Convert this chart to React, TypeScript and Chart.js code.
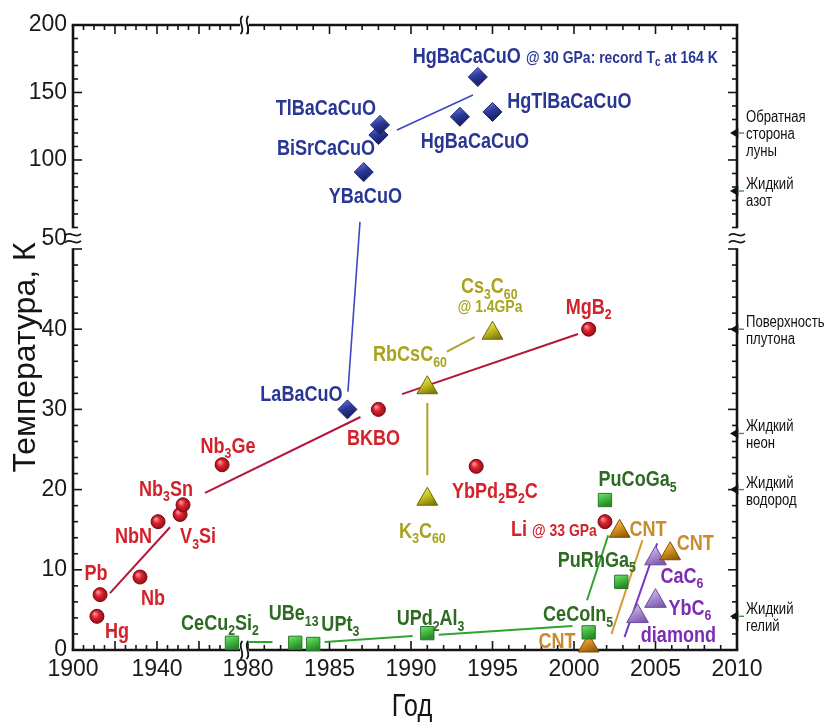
import React, { useEffect, useRef } from 'react';
import { Chart, registerables } from 'chart.js';

Chart.register(...registerables);

const SANS = '"Liberation Sans", Arial, sans-serif';
const SQUEEZE = 0.82; // horizontal condensing of annotation text (narrow face look)

// ---------------- DATA (year, Tc in K) ----------------
// Conventional superconductors (red circles)
const conventionalNames = ['Hg', 'Pb', 'Nb', 'NbN', 'V3Si', 'Nb3Sn', 'Nb3Ge', 'BKBO', 'YbPd2B2C', 'MgB2', 'Li'];
const conventionalYears = [1911.4, 1912.9, 1931.9, 1940.5, 1951.0, 1952.4, 1971.0, 1988.0, 1994.0, 2000.9, 2001.9];
const conventionalTc = [4.2, 6.9, 9.1, 16.0, 16.9, 18.1, 23.1, 30.0, 22.9, 40.0, 16.0];

// Cuprates (blue diamonds)
const cuprateNames = ['LaBaCuO', 'YBaCuO', 'BiSrCaCuO', 'TlBaCaCuO', 'HgBaCaCuO', 'HgTlBaCaCuO', 'HgBaCaCuO @ 30 GPa'];
const cuprateYears = [1986.1, 1987.1, 1988.0, 1988.1, 1993.0, 1995.0, 1994.1];
const cuprateTc = [30.0, 91.0, 118.5, 126.0, 132.0, 135.6, 161.5];

// Fullerides (olive triangles)
const fullerideNames = ['K3C60', 'RbCsC60', 'Cs3C60 @ 1.4GPa'];
const fullerideYears = [1991.0, 1991.0, 1995.0];
const fullerideTc = [18.8, 32.7, 39.5];

// Heavy fermions (green squares)
const heavyFermionNames = ['CeCu2Si2', 'UBe13', 'UPt3', 'UPd2Al3', 'CeCoIn5', 'PuRhGa5', 'PuCoGa5'];
const heavyFermionYears = [1975.7, 1982.9, 1984.0, 1991.0, 2000.9, 2002.9, 2001.9];
const heavyFermionTc = [0.9, 0.9, 0.75, 2.1, 2.2, 8.5, 18.7];

// Carbon nanotubes (orange triangles)
const cntYears = [2000.9, 2002.8, 2005.9];
const cntTc = [0.5, 14.8, 12.0];

// Graphite intercalation / diamond (purple triangles)
const carbonNames = ['CaC6', 'YbC6', 'diamond'];
const carbonYears = [2005.0, 2005.0, 2003.9];
const carbonTc = [11.4, 6.1, 4.2];

// Trend lines: [family, year1, Tc1, year2, Tc2]
const trendLines: [string, number, number, number, number][] = [
  ['red', 1917.6, 7.1, 1946.2, 15.3],
  ['red', 1962.9, 19.6, 1986.9, 29.05],
  ['red', 1989.45, 31.9, 2000.25, 39.4],
  ['blue', 1986.13, 32.2, 1986.87, 54.1],
  ['blue', 1989.14, 122.2, 1993.8, 148.1],
  ['olive', 1991.0, 30.8, 1991.0, 21.8],
  ['olive', 1992.2, 37.2, 1993.9, 39.0],
  ['green', 1980.0, 1.0, 1981.5, 1.0],
  ['green', 1984.7, 1.0, 1990.1, 1.75],
  ['green', 1991.7, 1.9, 1999.9, 3.0],
  ['green', 2000.8, 6.2, 2002.1, 14.3],
  ['orange', 2002.3, 2.0, 2004.2, 13.7],
  ['purple', 2003.1, 1.6, 2005.1, 13.3],
];

// Point labels: [text, year, Tc, align, family]  ("_" = subscript, "~" = small text from here)
const pointLabels: [string, number, number, string, string][] = [
  ['HgBaCaCuO ~@ 30 GPa: record T_c at 164 K', 1990.1, 177.8, 'left', 'blue'],
  ['HgTlBaCaCuO', 1995.9, 144.4, 'left', 'blue'],
  ['HgBaCaCuO', 1990.6, 114.8, 'left', 'blue'],
  ['TlBaCaCuO', 1987.85, 139.3, 'right', 'blue'],
  ['BiSrCaCuO', 1987.8, 109.6, 'right', 'blue'],
  ['YBaCuO', 1987.2, 74.1, 'center', 'blue'],
  ['LaBaCuO', 1985.8, 32.0, 'right', 'blue'],
  ['BKBO', 1987.7, 26.6, 'center', 'red'],
  ['Nb_3Ge', 1973.8, 25.6, 'center', 'red'],
  ['Nb_3Sn', 1944.3, 20.2, 'center', 'red'],
  ['NbN', 1937.6, 14.3, 'right', 'red'],
  ['V_3Si', 1951.0, 14.3, 'left', 'red'],
  ['Pb', 1911.0, 9.7, 'center', 'red'],
  ['Nb', 1938.1, 6.6, 'center', 'red'],
  ['Hg', 1915.2, 2.5, 'left', 'red'],
  ['YbPd_2B_2C', 1995.15, 19.95, 'center', 'red'],
  ['MgB_2', 2000.9, 42.9, 'center', 'red'],
  ['Li ~@ 33 GPa', 2001.4, 15.2, 'right', 'red'],
  ['K_3C_60', 1990.7, 15.0, 'center', 'olive'],
  ['RbCsC_60', 1992.2, 37.0, 'right', 'olive'],
  ['Cs_3C_60', 1994.8, 45.5, 'center', 'olive'],
  ['~@ 1.4GPa', 1994.85, 42.9, 'center', 'olive'],
  ['CeCu_2Si_2', 1970.0, 3.5, 'center', 'green'],
  ['UBe_13', 1982.8, 4.7, 'center', 'green'],
  ['UPt_3', 1984.5, 3.4, 'left', 'green'],
  ['UPd_2Al_3', 1991.2, 4.1, 'center', 'green'],
  ['CeCoIn_5', 2000.25, 4.6, 'center', 'green'],
  ['PuRhGa_5', 2001.4, 11.35, 'center', 'green'],
  ['PuCoGa_5', 2003.9, 21.4, 'center', 'green'],
  ['CNT', 2000.1, 1.25, 'right', 'orange'],
  ['CNT', 2003.4, 15.2, 'left', 'orange'],
  ['CNT', 2006.3, 13.5, 'left', 'orange'],
  ['CaC_6', 2005.3, 9.35, 'left', 'purple'],
  ['YbC_6', 2005.8, 5.4, 'left', 'purple'],
  ['diamond', 2004.1, 2.0, 'left', 'purple'],
];

// Reference temperatures on the right axis
const refTemps = [120, 77, 40, 27, 20, 4.2];
const refNames = ['Обратная\nсторона\nлуны', 'Жидкий\nазот', 'Поверхность\nплутона', 'Жидкий\nнеон', 'Жидкий\nводород', 'Жидкий\nгелий'];

// Tick labels
const xTickYears = [1900, 1940, 1980, 1985, 1990, 1995, 2000, 2005, 2010];
const yTickValues = [0, 10, 20, 30, 40, 50, 100, 150, 200];

// ---------------- broken-axis mapping ----------------
const X_LEFT_ORIGIN = 1969.264;
const X_LEFT_RATE = 0.12883;
function xu(year: number) {
  return year >= 1980 ? year : X_LEFT_ORIGIN + (year - 1900) * X_LEFT_RATE;
}
const Y_UP_100 = 61.1;
const Y_UP_RATE = 0.1683;
function yUpper(t: number) {
  return Y_UP_100 + (t - 100) * Y_UP_RATE;
}
function yv(t: number) {
  return t <= 50 ? t : yUpper(t);
}
const X_BREAK = (xu(1979.999) + 1980) / 2;
const Y_BREAK = (50 + yUpper(50)) / 2;

const COLORS: Record<string, { text: string; line: string; light: string; mid: string; dark: string; edge: string }> = {
  red: { text: '#d2222b', line: '#b3163a', light: '#ff9a9a', mid: '#dc2330', dark: '#8e0c16', edge: '#7a0a10' },
  blue: { text: '#293694', line: '#3c47c2', light: '#6a76d6', mid: '#2f3ca2', dark: '#1c2570', edge: '#1a2266' },
  olive: { text: '#a9a31f', line: '#aaa52a', light: '#f2ec6a', mid: '#c4bd22', dark: '#7f7a08', edge: '#6d6806' },
  green: { text: '#2d6a22', line: '#2fa32f', light: '#86e586', mid: '#47c047', dark: '#2a8a2a', edge: '#267a26' },
  orange: { text: '#c98b2c', line: '#d49a32', light: '#f5c56a', mid: '#d48f1e', dark: '#8f5a08', edge: '#7a4d08' },
  purple: { text: '#7b2db2', line: '#7b35c6', light: '#d8c8ef', mid: '#a98cd2', dark: '#7a5aa8', edge: '#6a4a9a' },
};

function pts(years: number[], tcs: number[]) {
  return years.map((yr, i) => ({ x: xu(yr), y: yv(tcs[i]) }));
}

function shade(fam: string, r: number, radial: boolean) {
  const c = COLORS[fam];
  return (ctx: any) => {
    const chart = ctx.chart;
    const raw = ctx.raw;
    if (!raw || !chart.scales || !chart.scales.x || !chart.scales.y) return c.mid;
    const px = chart.scales.x.getPixelForValue(raw.x);
    const py = chart.scales.y.getPixelForValue(raw.y);
    if (!Number.isFinite(px) || !Number.isFinite(py)) return c.mid;
    const g = radial
      ? chart.ctx.createRadialGradient(px - r * 0.35, py - r * 0.4, 0.3, px, py, r * 1.05)
      : chart.ctx.createLinearGradient(px - r * 0.3, py - r, px + r * 0.3, py + r * 0.5);
    g.addColorStop(0, c.light);
    g.addColorStop(radial ? 0.45 : 0.5, c.mid);
    g.addColorStop(1, c.dark);
    return g;
  };
}

function pointSet(label: string, fam: string, data: any[], style: string, r: number, radial: boolean) {
  return {
    label,
    type: 'scatter' as const,
    data,
    showLine: false,
    pointStyle: style,
    pointRadius: r,
    pointBackgroundColor: shade(fam, r, radial),
    pointBorderColor: COLORS[fam].edge,
    pointBorderWidth: 1,
    clip: false as any,
  };
}

// ---------------- rich text ----------------
type Seg = { t: string; sub: boolean; small: boolean };
function parseRich(s: string): Seg[] {
  const out: Seg[] = [];
  let small = false;
  let buf = '';
  const flush = () => {
    if (buf) out.push({ t: buf, sub: false, small });
    buf = '';
  };
  for (let i = 0; i < s.length; i++) {
    const ch = s[i];
    if (ch === '~') {
      flush();
      small = true;
      continue;
    }
    if (ch === '_') {
      flush();
      let j = i + 1;
      let sub = '';
      if (/\d/.test(s[j])) {
        while (j < s.length && /\d/.test(s[j])) sub += s[j++];
      } else {
        sub = s[j];
        j++;
      }
      out.push({ t: sub, sub: true, small });
      i = j - 1;
      continue;
    }
    buf += ch;
  }
  flush();
  return out;
}

const BASE = 22;
function segSize(s: Seg) {
  if (s.small) return s.sub ? 12 : 17;
  return s.sub ? 15 : BASE;
}

// condensed text drawing (horizontal squeeze)
function fillSqueezed(ctx: CanvasRenderingContext2D, text: string, x: number, y: number) {
  ctx.save();
  ctx.translate(x, y);
  ctx.scale(SQUEEZE, 1);
  ctx.fillText(text, 0, 0);
  ctx.restore();
}

function drawRich(ctx: CanvasRenderingContext2D, text: string, x: number, y: number, align: string, color: string) {
  const segs = parseRich(text);
  let total = 0;
  let maxMain = 0;
  const widths = segs.map((s) => {
    ctx.font = `bold ${segSize(s)}px ${SANS}`;
    if (!s.sub) maxMain = Math.max(maxMain, segSize(s));
    const w = ctx.measureText(s.t).width * SQUEEZE;
    total += w;
    return w;
  });
  let cx = align === 'left' ? x : align === 'right' ? x - total : x - total / 2;
  const base = y + maxMain * 0.36;
  ctx.fillStyle = color;
  ctx.textAlign = 'left';
  ctx.textBaseline = 'alphabetic';
  segs.forEach((s, i) => {
    ctx.font = `bold ${segSize(s)}px ${SANS}`;
    const dy = s.sub ? (s.small ? 3.5 : 5.5) : 0;
    fillSqueezed(ctx, s.t, cx, base + dy);
    cx += widths[i];
  });
}

// ---------------- frame plugin ----------------
const framePlugin = {
  id: 'frame',
  beforeDatasetsDraw(chart: any) {
    const { ctx, chartArea: a, scales } = chart;
    const sx = scales.x;
    const sy = scales.y;
    const L = a.left;
    const R = a.right;
    const T = a.top;
    const B = a.bottom;
    const xb = sx.getPixelForValue(X_BREAK);
    const yb = sy.getPixelForValue(Y_BREAK);
    const gx = 4.5;
    const gy = 10;
    ctx.save();
    ctx.strokeStyle = '#151515';
    ctx.lineWidth = 2.6;
    ctx.lineCap = 'butt';
    const seg = (x1: number, y1: number, x2: number, y2: number) => {
      ctx.beginPath();
      ctx.moveTo(x1, y1);
      ctx.lineTo(x2, y2);
      ctx.stroke();
    };
    seg(L - 1.3, B, xb - gx, B);
    seg(xb + gx, B, R + 1.3, B);
    seg(L - 1.3, T, xb - gx, T);
    seg(xb + gx, T, R + 1.3, T);
    seg(L, T, L, yb - gy);
    seg(L, yb + gy, L, B);
    seg(R, T, R, yb - gy);
    seg(R, yb + gy, R, B);

    ctx.lineWidth = 1.6;
    const yTicks: [number, boolean][] = [];
    for (let t = 0; t <= 50; t += 2) yTicks.push([sy.getPixelForValue(t), t % 10 === 0]);
    for (let t = 50; t <= 200; t += 10) yTicks.push([sy.getPixelForValue(yUpper(t)), t % 50 === 0 && t !== 50]);
    yTicks.forEach(([py, major]) => {
      const len = major ? 9 : 5;
      seg(L, py, L + len, py);
      seg(R, py, R - len, py);
    });
    const xTicks: [number, boolean][] = [];
    for (let yr = 1900; yr <= 1975; yr += 5) xTicks.push([sx.getPixelForValue(xu(yr)), yr % 20 === 0]);
    for (let yr = 1980; yr <= 2010; yr += 1) xTicks.push([sx.getPixelForValue(yr), yr % 5 === 0]);
    xTicks.forEach(([px, major]) => {
      const len = major ? 9 : 5;
      seg(px, B, px, B - len);
      seg(px, T, px, T + len);
    });

    ctx.lineWidth = 1.8;
    const vBreak = (cx: number, cy: number) => {
      [-3, 3].forEach((d) => {
        ctx.beginPath();
        ctx.moveTo(cx + d + 1, cy - 9);
        ctx.bezierCurveTo(cx + d - 5, cy - 4, cx + d + 5, cy + 4, cx + d - 1, cy + 9);
        ctx.stroke();
      });
    };
    vBreak(xb, B);
    vBreak(xb, T);
    const hBreak = (cx: number, cy: number) => {
      [-3.5, 3.5].forEach((d) => {
        ctx.beginPath();
        ctx.moveTo(cx - 8, cy + d + 1);
        ctx.bezierCurveTo(cx - 3, cy + d - 5, cx + 3, cy + d + 5, cx + 8, cy + d - 1);
        ctx.stroke();
      });
    };
    hBreak(L, yb);
    hBreak(R, yb);

    refTemps.forEach((t, i) => {
      const py = sy.getPixelForValue(yv(t));
      ctx.fillStyle = '#111';
      ctx.beginPath();
      ctx.moveTo(R + 1.3, py - 5);
      ctx.lineTo(R + 1.3, py + 5);
      ctx.lineTo(R - 7, py);
      ctx.closePath();
      ctx.fill();
      ctx.strokeStyle = '#3a9a3a';
      ctx.lineWidth = 1.4;
      seg(R + 2, py, R + 7, py);
      ctx.strokeStyle = '#151515';
      const lines = refNames[i].split('\n');
      ctx.font = `16px ${SANS}`;
      ctx.fillStyle = '#111';
      ctx.textAlign = 'left';
      ctx.textBaseline = 'middle';
      const lh = 17;
      const top = py + 2 - ((lines.length - 1) * lh) / 2;
      lines.forEach((ln, k) => fillSqueezed(ctx, ln, R + 9, top + k * lh));
    });
    ctx.restore();
  },
  afterDatasetsDraw(chart: any) {
    const { ctx, chartArea: a, scales } = chart;
    ctx.save();
    pointLabels.forEach(([text, yr, tc, align, fam]) => {
      const px = scales.x.getPixelForValue(xu(yr));
      const py = scales.y.getPixelForValue(yv(tc));
      drawRich(ctx, text, px, py, align, COLORS[fam].text);
    });
    ctx.fillStyle = '#151515';
    ctx.textAlign = 'center';
    ctx.textBaseline = 'middle';
    ctx.font = `31px ${SANS}`;
    fillSqueezed(ctx, 'Год', (a.left + a.right) / 2 + 7, a.bottom + 57);
    ctx.translate(26, (a.top + a.bottom) / 2 + 20);
    ctx.rotate(-Math.PI / 2);
    ctx.font = `32px ${SANS}`;
    ctx.fillText('Температура, К', 0, 0);
    ctx.restore();
  },
};

function lineSets() {
  return trendLines.map(([fam, y1, t1, y2, t2], i) => ({
    label: `line-${i}`,
    type: 'scatter' as const,
    data: [
      { x: xu(y1), y: yv(t1) },
      { x: xu(y2), y: yv(t2) },
    ],
    showLine: true,
    borderColor: COLORS[fam].line,
    borderWidth: fam === 'blue' ? 1.6 : 2,
    pointRadius: 0,
    fill: false,
    clip: false as any,
  }));
}

export default function App() {
  const ref = useRef<HTMLCanvasElement>(null);
  useEffect(() => {
    const canvas = ref.current;
    if (!canvas) return;
    const chart = new Chart(canvas, {
      type: 'scatter',
      data: {
        datasets: [
          pointSet('conventional', 'red', pts(conventionalYears, conventionalTc), 'circle', 7, true),
          pointSet('cuprates', 'blue', pts(cuprateYears, cuprateTc), 'rectRot', 9.5, false),
          pointSet('fullerides', 'olive', pts(fullerideYears, fullerideTc), 'triangle', 12, false),
          pointSet('heavy fermions', 'green', pts(heavyFermionYears, heavyFermionTc), 'rect', 9.4, false),
          pointSet('CNT', 'orange', pts(cntYears, cntTc), 'triangle', 12, false),
          pointSet('carbon', 'purple', pts(carbonYears, carbonTc), 'triangle', 12.5, false),
          ...lineSets(),
        ] as any,
      },
      options: {
        responsive: false,
        devicePixelRatio: 1,
        animation: false,
        events: [],
        layout: { padding: { top: 25, right: 87, left: 0, bottom: 0 } },
        plugins: { legend: { display: false }, tooltip: { enabled: false } },
        scales: {
          x: {
            type: 'linear',
            min: xu(1900),
            max: 2010,
            afterBuildTicks: (s: any) => {
              s.ticks = xTickYears.map((yr) => ({ value: xu(yr) }));
            },
            afterFit: (s: any) => {
              s.height = 72;
            },
            ticks: {
              autoSkip: false,
              maxRotation: 0,
              padding: 6,
              color: '#1a1a1a',
              font: { family: SANS, size: 23 },
              callback: (_v: any, i: number) => String(xTickYears[i]),
            },
            grid: { display: false, drawTicks: false },
            border: { display: false },
          },
          y: {
            type: 'linear',
            min: 0,
            max: yv(200),
            afterBuildTicks: (s: any) => {
              s.ticks = yTickValues.map((t) => ({ value: t === 50 ? Y_BREAK : yv(t) }));
            },
            afterFit: (s: any) => {
              s.width = 73;
            },
            ticks: {
              autoSkip: false,
              padding: 6,
              color: '#1a1a1a',
              font: { family: SANS, size: 23 },
              callback: (_v: any, i: number) => String(yTickValues[i]),
            },
            grid: { display: false, drawTicks: false },
            border: { display: false },
          },
        },
      } as any,
      plugins: [framePlugin],
    });
    return () => chart.destroy();
  }, []);
  return (
    <div style={{ position: 'absolute', left: 0, top: 0, width: 824, height: 722, background: '#fff' }}>
      <canvas ref={ref} width={824} height={722} style={{ display: 'block', width: 824, height: 722 }} />
    </div>
  );
}
